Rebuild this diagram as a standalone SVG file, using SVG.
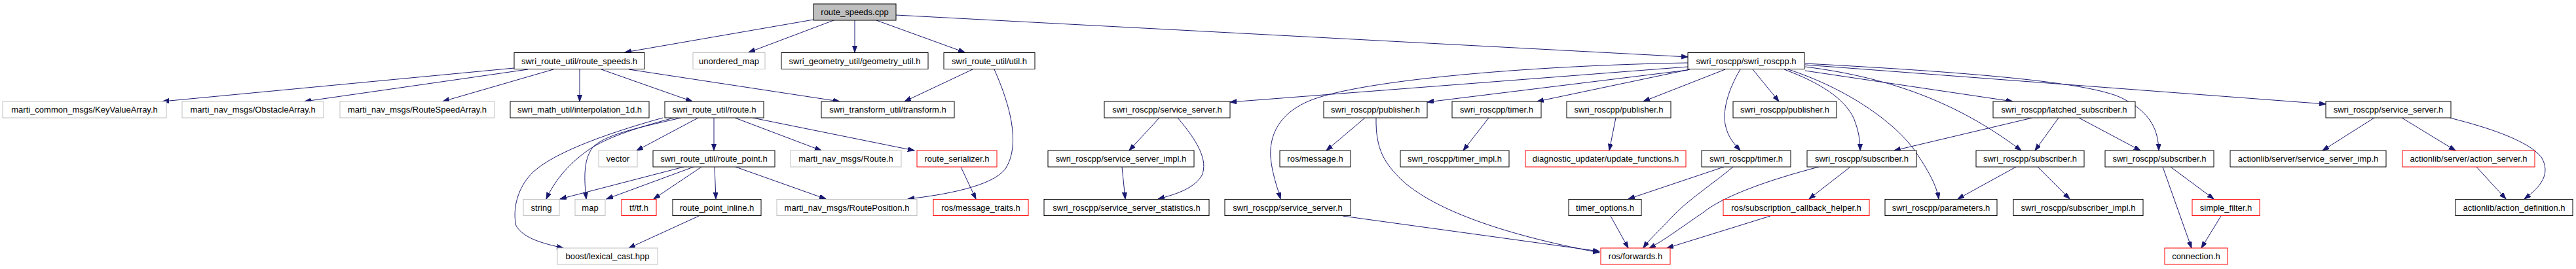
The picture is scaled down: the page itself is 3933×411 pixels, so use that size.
<svg xmlns="http://www.w3.org/2000/svg" width="3933" height="411" viewBox="0 0 3933 411">
<style>
rect{fill:#fff;stroke:#000;stroke-width:1}
.g rect{stroke:#bfbfbf}
.r rect{stroke:#ff0000}
.root rect{fill:#bfbfbf}
text{font-family:"Liberation Sans",Arial,sans-serif;font-size:13px;text-anchor:middle;fill:#000}
#edges path{fill:none;stroke:#191970;stroke-width:1;marker-end:url(#ah)}
</style>
<defs>
<marker id="ah" markerUnits="userSpaceOnUse" markerWidth="11" markerHeight="8" refX="10" refY="3.5" orient="auto">
<path d="M0,0 L10,3.5 L0,7 z" fill="#191970" stroke="#191970" stroke-width="1"/>
</marker>
</defs>
<rect x="0" y="0" width="3933" height="411" style="fill:#fff;stroke:none"/>
<g id="edges">
<path d="M1242,30 L954,80"/>
<path d="M1273,31 L1143,80"/>
<path d="M1305,31 L1305,80"/>
<path d="M1338,31 L1473,80"/>
<path d="M1368,23 L2577,87"/>
<path d="M785,104 L248,155"/>
<path d="M806,106 L465,155"/>
<path d="M845,106 L676,155"/>
<path d="M885,106 L885,155"/>
<path d="M918,106 L1057,155"/>
<path d="M960,106 L1282,155"/>
<path d="M1485,106 L1381,155"/>
<path d="M1518,106 C1540,155 1560,220 1535,258 C1515,285 1440,298 1386,304"/>
<path d="M1029,180 C980,193 930,208 900,228 C865,252 845,280 834,304"/>
<path d="M1040,180 C975,195 925,205 905,225 C890,245 892,275 895,304"/>
<path d="M1012,180 C940,200 850,230 815,262 C790,285 782,320 788,345 C800,365 830,372 860,379"/>
<path d="M1066,180 L972,230"/>
<path d="M1090,180 L1090,230"/>
<path d="M1122,180 L1254,230"/>
<path d="M1149,180 L1396,230"/>
<path d="M1044,255 L855,304"/>
<path d="M1059,255 L926,304"/>
<path d="M1071,255 L998,304"/>
<path d="M1091,255 L1093,304"/>
<path d="M1123,255 L1261,304"/>
<path d="M1067,330 L960,379"/>
<path d="M1467,255 L1490,304"/>
<path d="M1770,180 L1724,230"/>
<path d="M1798,180 C1828,215 1845,245 1835,268 C1822,290 1790,298 1768,304"/>
<path d="M1713,255 L1718,304"/>
<path d="M2577,102 L1878,156"/>
<path d="M2577,96 C2350,100 2100,120 2010,150 C1950,170 1938,210 1940,240 C1942,265 1950,285 1955,304"/>
<path d="M2577,107 L2179,156"/>
<path d="M2580,106 L2347,155"/>
<path d="M2634,106 L2509,155"/>
<path d="M2657,106 C2640,135 2630,165 2634,190 C2638,210 2648,220 2657,230"/>
<path d="M2676,106 L2716,155"/>
<path d="M2724,106 C2780,127 2815,150 2830,180 C2838,200 2840,215 2840,230"/>
<path d="M2730,106 C2820,135 2900,190 2930,240 C2950,270 2958,290 2960,304"/>
<path d="M2756,102 C2900,120 3000,165 3086,230"/>
<path d="M2756,108 L3073,155"/>
<path d="M2756,97 C3000,110 3190,125 3240,150 C3285,172 3295,200 3296,230"/>
<path d="M2756,99 L3551,159"/>
<path d="M3103,180 L2892,230"/>
<path d="M3143,180 L3107,230"/>
<path d="M3174,180 L3268,230"/>
<path d="M2084,180 L2025,230"/>
<path d="M2101,180 C2100,230 2115,250 2140,275 C2200,330 2330,365 2442,386"/>
<path d="M2273,180 L2234,230"/>
<path d="M2467,180 L2457,230"/>
<path d="M2050,330 L2442,384"/>
<path d="M2459,330 L2486,379"/>
<path d="M2632,255 L2486,304"/>
<path d="M2646,255 C2610,285 2570,310 2545,340 C2525,360 2515,370 2509,379"/>
<path d="M2777,255 C2700,275 2630,300 2600,325 C2570,345 2540,368 2518,379"/>
<path d="M2703,330 L2545,379"/>
<path d="M2825,255 L2762,304"/>
<path d="M3078,255 L2989,304"/>
<path d="M3111,255 L3160,304"/>
<path d="M3625,180 L3546,230"/>
<path d="M3667,180 L3749,230"/>
<path d="M3740,180 C3800,195 3860,215 3880,240 C3895,265 3880,285 3854,304"/>
<path d="M3781,255 L3826,304"/>
<path d="M3302,255 L3346,379"/>
<path d="M3314,255 L3380,304"/>
<path d="M3391,330 L3361,379"/>
</g>
<g id="n_route_speeds_cpp" class="root"><rect x="1242" y="6" width="126" height="25"/><text x="1305" y="23">route_speeds.cpp</text></g>
<g id="n_route_speeds_h"><rect x="785" y="80.5" width="199" height="25"/><text x="884.5" y="97.5">swri_route_util/route_speeds.h</text></g>
<g id="n_unordered_map" class="g"><rect x="1058" y="80.5" width="110" height="25"/><text x="1113" y="97.5">unordered_map</text></g>
<g id="n_geometry_util"><rect x="1193" y="80.5" width="224" height="25"/><text x="1305" y="97.5">swri_geometry_util/geometry_util.h</text></g>
<g id="n_util_h"><rect x="1441" y="80.5" width="139" height="25"/><text x="1510.5" y="97.5">swri_route_util/util.h</text></g>
<g id="n_swri_roscpp"><rect x="2577" y="80.5" width="178" height="25"/><text x="2666" y="97.5">swri_roscpp/swri_roscpp.h</text></g>
<g id="n_keyvalue" class="g"><rect x="4" y="155" width="250" height="25"/><text x="129" y="172">marti_common_msgs/KeyValueArray.h</text></g>
<g id="n_obstacle" class="g"><rect x="278" y="155" width="216" height="25"/><text x="386" y="172">marti_nav_msgs/ObstacleArray.h</text></g>
<g id="n_routespeedarray" class="g"><rect x="519" y="155" width="236" height="25"/><text x="637" y="172">marti_nav_msgs/RouteSpeedArray.h</text></g>
<g id="n_interp"><rect x="779" y="155" width="212" height="25"/><text x="885" y="172">swri_math_util/interpolation_1d.h</text></g>
<g id="n_route_h"><rect x="1015" y="155" width="151" height="25"/><text x="1090.5" y="172">swri_route_util/route.h</text></g>
<g id="n_transform"><rect x="1254" y="155" width="203" height="25"/><text x="1355.5" y="172">swri_transform_util/transform.h</text></g>
<g id="n_service_server_a"><rect x="1686" y="155" width="192" height="25"/><text x="1782" y="172">swri_roscpp/service_server.h</text></g>
<g id="n_publisher1"><rect x="2021" y="155" width="158" height="25"/><text x="2100" y="172">swri_roscpp/publisher.h</text></g>
<g id="n_timer1"><rect x="2217" y="155" width="136" height="25"/><text x="2285" y="172">swri_roscpp/timer.h</text></g>
<g id="n_publisher2"><rect x="2392" y="155" width="159" height="25"/><text x="2471.5" y="172">swri_roscpp/publisher.h</text></g>
<g id="n_publisher3"><rect x="2646" y="155" width="158" height="25"/><text x="2725" y="172">swri_roscpp/publisher.h</text></g>
<g id="n_latched"><rect x="3043" y="155" width="217" height="25"/><text x="3151.5" y="172">swri_roscpp/latched_subscriber.h</text></g>
<g id="n_service_server_c"><rect x="3551" y="155" width="191" height="25"/><text x="3646.5" y="172">swri_roscpp/service_server.h</text></g>
<g id="n_vector" class="g"><rect x="914" y="230" width="59" height="25"/><text x="943.5" y="247">vector</text></g>
<g id="n_route_point"><rect x="997" y="230" width="186" height="25"/><text x="1090" y="247">swri_route_util/route_point.h</text></g>
<g id="n_route_msg" class="g"><rect x="1207" y="230" width="169" height="25"/><text x="1291.5" y="247">marti_nav_msgs/Route.h</text></g>
<g id="n_route_serializer" class="r"><rect x="1400" y="230" width="122" height="25"/><text x="1461" y="247">route_serializer.h</text></g>
<g id="n_service_server_impl"><rect x="1600" y="230" width="223" height="25"/><text x="1711.5" y="247">swri_roscpp/service_server_impl.h</text></g>
<g id="n_message"><rect x="1954" y="230" width="108" height="25"/><text x="2008" y="247">ros/message.h</text></g>
<g id="n_timer_impl"><rect x="2138" y="230" width="166" height="25"/><text x="2221" y="247">swri_roscpp/timer_impl.h</text></g>
<g id="n_update_functions" class="r"><rect x="2329" y="230" width="245" height="25"/><text x="2451.5" y="247">diagnostic_updater/update_functions.h</text></g>
<g id="n_timer2"><rect x="2598" y="230" width="136" height="25"/><text x="2666" y="247">swri_roscpp/timer.h</text></g>
<g id="n_subscriber1"><rect x="2759" y="230" width="167" height="25"/><text x="2842.5" y="247">swri_roscpp/subscriber.h</text></g>
<g id="n_subscriber2"><rect x="3017" y="230" width="165" height="25"/><text x="3099.5" y="247">swri_roscpp/subscriber.h</text></g>
<g id="n_subscriber3"><rect x="3214" y="230" width="166" height="25"/><text x="3297" y="247">swri_roscpp/subscriber.h</text></g>
<g id="n_service_server_imp"><rect x="3405" y="230" width="238" height="25"/><text x="3524" y="247">actionlib/server/service_server_imp.h</text></g>
<g id="n_action_server" class="r"><rect x="3668" y="230" width="202" height="25"/><text x="3769" y="247">actionlib/server/action_server.h</text></g>
<g id="n_string" class="g"><rect x="799" y="304.5" width="55" height="25"/><text x="826.5" y="321.5">string</text></g>
<g id="n_map" class="g"><rect x="878" y="304.5" width="46" height="25"/><text x="901" y="321.5">map</text></g>
<g id="n_tf" class="r"><rect x="949" y="304.5" width="53" height="25"/><text x="975.5" y="321.5">tf/tf.h</text></g>
<g id="n_route_point_inline"><rect x="1027" y="304.5" width="135" height="25"/><text x="1094.5" y="321.5">route_point_inline.h</text></g>
<g id="n_route_position" class="g"><rect x="1186" y="304.5" width="214" height="25"/><text x="1293" y="321.5">marti_nav_msgs/RoutePosition.h</text></g>
<g id="n_message_traits" class="r"><rect x="1425" y="304.5" width="145" height="25"/><text x="1497.5" y="321.5">ros/message_traits.h</text></g>
<g id="n_statistics"><rect x="1594" y="304.5" width="252" height="25"/><text x="1720" y="321.5">swri_roscpp/service_server_statistics.h</text></g>
<g id="n_service_server_b"><rect x="1870" y="304.5" width="192" height="25"/><text x="1966" y="321.5">swri_roscpp/service_server.h</text></g>
<g id="n_timer_options"><rect x="2395" y="304.5" width="111" height="25"/><text x="2450.5" y="321.5">timer_options.h</text></g>
<g id="n_callback_helper" class="r"><rect x="2631" y="304.5" width="223" height="25"/><text x="2742.5" y="321.5">ros/subscription_callback_helper.h</text></g>
<g id="n_parameters"><rect x="2878" y="304.5" width="171" height="25"/><text x="2963.5" y="321.5">swri_roscpp/parameters.h</text></g>
<g id="n_subscriber_impl"><rect x="3074" y="304.5" width="198" height="25"/><text x="3173" y="321.5">swri_roscpp/subscriber_impl.h</text></g>
<g id="n_simple_filter" class="r"><rect x="3347" y="304.5" width="103" height="25"/><text x="3398.5" y="321.5">simple_filter.h</text></g>
<g id="n_action_definition"><rect x="3749" y="304.5" width="179" height="25"/><text x="3838.5" y="321.5">actionlib/action_definition.h</text></g>
<g id="n_boost" class="g"><rect x="851" y="379" width="153" height="25"/><text x="927.5" y="396">boost/lexical_cast.hpp</text></g>
<g id="n_forwards" class="r"><rect x="2444" y="379" width="106" height="25"/><text x="2497" y="396">ros/forwards.h</text></g>
<g id="n_connection" class="r"><rect x="3305" y="379" width="96" height="25"/><text x="3353" y="396">connection.h</text></g>
</svg>
